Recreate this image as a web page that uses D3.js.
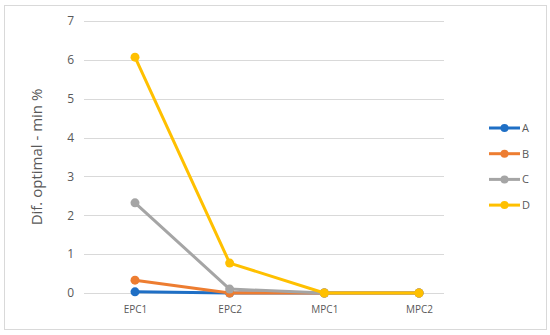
<!DOCTYPE html>
<html>
<head>
<meta charset="utf-8">
<script src="https://cdn.jsdelivr.net/npm/d3@7"></script>
<style>
body{margin:0;background:#fff;font-family:"Open Sans",Calibri,sans-serif;}
</style>
</head>
<body>
<div class="plot"></div>
<script>
var categories = ['EPC1','EPC2','MPC1','MPC2'];
var seriesNames = ['A','B','C','D'];
var valuesA = [0.03, 0, 0, 0];
var valuesB = [0.33, 0, 0, 0];
var valuesC = [2.32, 0.1, 0, 0];
var valuesD = [6.07, 0.77, 0, 0];
var yTicks = [0,1,2,3,4,5,6,7];
var colors = ['#1f6fc5','#ed7d31','#a5a5a5','#ffc000'];

var series = [valuesA, valuesB, valuesC, valuesD].map(function(v,i){
    return {name: seriesNames[i], values: v, color: colors[i]};
});

var W = 550, H = 335;
var svg = d3.select('.plot').append('svg')
    .attr('width',W)
    .attr('height',H);

// outer frame
svg.append('rect')
    .attr('x',4.5).attr('y',5.5)
    .attr('width',542).attr('height',324)
    .attr('fill','#fff')
    .attr('stroke','#d9d9d9');

var x = d3.scalePoint().domain(categories).range([135,419]);
var y = d3.scaleLinear().domain([0,7]).range([293,21]);

// gridlines
svg.append('g').selectAll('line')
    .data(yTicks)
    .enter()
    .append('line')
    .attr('x1',84).attr('x2',444)
    .attr('y1',function(d){return Math.round(y(d))+0.5})
    .attr('y2',function(d){return Math.round(y(d))+0.5})
    .attr('stroke','#d9d9d9')
    .attr('stroke-width',1);

var yAxis = svg.append('g')
    .attr('transform','translate(74,0)')
    .call(d3.axisLeft(y).tickValues(yTicks).tickFormat(d3.format('d')).tickSize(0).tickPadding(0));
yAxis.select('.domain').remove();
yAxis.selectAll('text')
    .attr('fill','#595959')
    .style('font-size','12px')
    .style('font-family','"Open Sans",sans-serif');

var xAxis = svg.append('g')
    .attr('transform','translate(0,293)')
    .call(d3.axisBottom(x).tickSize(0).tickPadding(13));
xAxis.select('.domain').remove();
xAxis.selectAll('text')
    .attr('fill','#595959')
    .style('font-size','10px')
    .style('font-family','"Open Sans",sans-serif');

svg.append('text')
    .attr('transform','translate(42,157) rotate(-90)')
    .attr('text-anchor','middle')
    .attr('fill','#595959')
    .style('font-size','15px')
    .text('Dif. optimal - min %');

var line = d3.line()
    .x(function(d,i){return x(categories[i])})
    .y(function(d){return y(d)});

var groups = svg.selectAll('.series')
    .data(series)
    .enter()
    .append('g')
    .attr('class','series');

groups.append('path')
    .attr('d',function(d){return line(d.values)})
    .attr('fill','none')
    .attr('stroke',function(d){return d.color})
    .attr('stroke-width',3)
    .attr('stroke-linejoin','round');

groups.selectAll('circle')
    .data(function(d){return d.values.map(function(v){return {v:v,c:d.color}})})
    .enter()
    .append('circle')
    .attr('cx',function(d,i){return x(categories[i])})
    .attr('cy',function(d){return y(d.v)})
    .attr('r',4.5)
    .attr('fill',function(d){return d.c});

// legend
var legend = svg.selectAll('.legend')
    .data(series)
    .enter()
    .append('g')
    .attr('class','legend')
    .attr('transform',function(d,i){return 'translate(489,'+(128+i*25.7)+')'});

legend.append('line')
    .attr('x1',0).attr('x2',31)
    .attr('stroke',function(d){return d.color})
    .attr('stroke-width',3);
legend.append('circle')
    .attr('cx',15.5).attr('r',4)
    .attr('fill',function(d){return d.color});
legend.append('text')
    .attr('x',33).attr('dy','0.35em')
    .attr('fill','#595959')
    .style('font-size','11px')
    .text(function(d){return d.name});
</script>
</body>
</html>
